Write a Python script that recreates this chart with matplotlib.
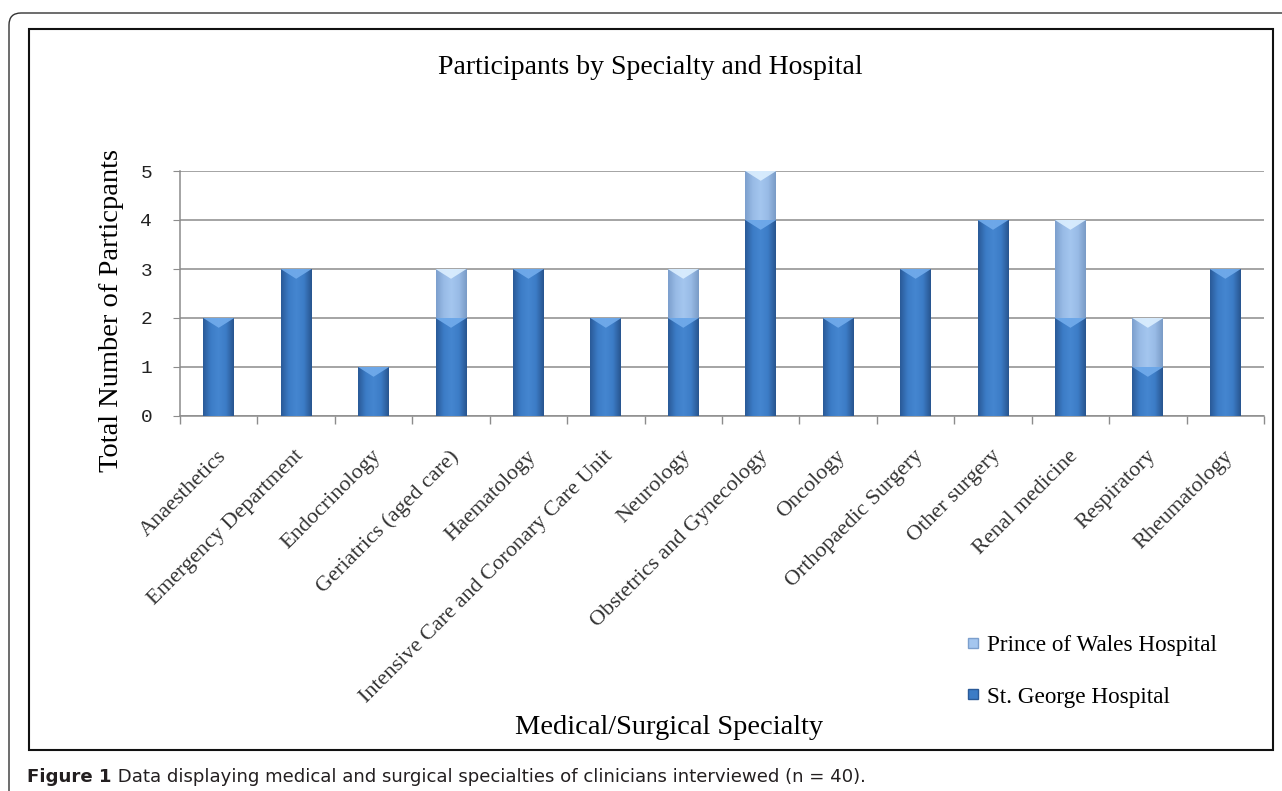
import matplotlib.pyplot as plt
import numpy as np
from matplotlib.colors import LinearSegmentedColormap
from matplotlib.lines import Line2D
from matplotlib.patches import FancyBboxPatch, Polygon, Rectangle
from matplotlib.transforms import IdentityTransform, ScaledTranslation

# ---------------------------------------------------------------------------
# Data
# ---------------------------------------------------------------------------
SPECIALTIES = [
    "Anaesthetics",
    "Emergency Department",
    "Endocrinology",
    "Geriatrics (aged care)",
    "Haematology",
    "Intensive Care and Coronary Care Unit",
    "Neurology",
    "Obstetrics and Gynecology",
    "Oncology",
    "Orthopaedic Surgery",
    "Other surgery",
    "Renal medicine",
    "Respiratory",
    "Rheumatology",
]
ST_GEORGE = [2, 3, 1, 2, 3, 2, 2, 4, 2, 3, 4, 2, 1, 3]
PRINCE_OF_WALES = [0, 0, 0, 1, 0, 0, 1, 1, 0, 0, 0, 2, 1, 0]
Y_TICKS = [0, 1, 2, 3, 4, 5]

TITLE = "Participants by Specialty and Hospital"
XLABEL = "Medical/Surgical Specialty"
YLABEL = "Total Number of Particpants"
CAPTION_BOLD = "Figure 1"
CAPTION = " Data displaying medical and surgical specialties of clinicians interviewed (n = 40)."

# ---------------------------------------------------------------------------
# Style
# ---------------------------------------------------------------------------
W, H = 1282, 791
SERIF = "Liberation Serif"
DARK = ["#2a5a98", "#3c7cc6", "#4586d0", "#3c7cc6", "#28558f"]
LIGHT = ["#7c9fcd", "#98bbe6", "#a4c6ef", "#98bbe6", "#7a9bc6"]
DARK_TOP = "#72acec"
LIGHT_TOP = "#dcefff"
GRID = "#8c8c8c"


def fx(px):
    return px / W


def fy(py):
    return 1 - py / H


fig = plt.figure(figsize=(W / 100, H / 100), dpi=100)
ax = fig.add_axes([fx(180), fy(416), fx(1264) - fx(180), fy(171) - fy(416)])

x = np.arange(len(SPECIALTIES))
grad = np.linspace(0, 1, 64).reshape(1, -1)
cm_dark = LinearSegmentedColormap.from_list("dark", DARK)
cm_light = LinearSegmentedColormap.from_list("light", LIGHT)

bars_sg = ax.bar(x, ST_GEORGE, width=0.4, color=DARK[1], zorder=2)
bars_pw = ax.bar(x, PRINCE_OF_WALES, width=0.4, bottom=ST_GEORGE, color=LIGHT[1], zorder=2)

# horizontal shading + light bevel at the top of every segment
bevel = 0.2
for bars, cmap, top_c in [(bars_sg, cm_dark, DARK_TOP), (bars_pw, cm_light, LIGHT_TOP)]:
    for r in bars:
        if r.get_height() <= 0:
            continue
        x0, y0 = r.get_x(), r.get_y()
        x1, y1 = x0 + r.get_width(), y0 + r.get_height()
        ax.imshow(grad, extent=(x0, x1, y0, y1), aspect="auto", cmap=cmap,
                  interpolation="bilinear", zorder=3)
        ax.add_patch(Polygon([(x0, y1), (x1, y1), ((x0 + x1) / 2, y1 - bevel)],
                             closed=True, color=top_c, lw=0, alpha=0.9, zorder=4))

ax.set_xlim(-0.5, len(SPECIALTIES) - 0.5)
ax.set_ylim(0, 5)
ax.set_yticks(Y_TICKS)
ax.set_yticklabels([str(v) for v in Y_TICKS], family="Liberation Mono", fontsize=14, color="#222")
ax.tick_params(axis="y", length=5, color=GRID, pad=15)
ax.yaxis.grid(True, color=GRID, lw=1.1)
ax.set_axisbelow(True)

# category boundary ticks (major) + labels at the centres (minor)
ax.set_xticks(np.arange(-0.5, len(SPECIALTIES), 1))
ax.set_xticklabels([])
ax.tick_params(axis="x", which="major", length=6, color=GRID, width=1)
ax.set_xticks(x, minor=True)
ax.set_xticklabels(SPECIALTIES, minor=True, rotation=45, ha="right", va="top",
                   rotation_mode="anchor", family=SERIF, fontsize=16, color="#333")
ax.tick_params(axis="x", which="minor", length=0, pad=22)
shift = ScaledTranslation(-2 / 100, 0, fig.dpi_scale_trans)
for lbl in ax.get_xticklabels(minor=True):
    lbl.set_transform(lbl.get_transform() + shift)

for s in ["top", "right"]:
    ax.spines[s].set_visible(False)
for s in ["left", "bottom"]:
    ax.spines[s].set_color(GRID)
    ax.spines[s].set_linewidth(1.1)

# titles
fig.text(fx(650), fy(67), TITLE, ha="center", va="center", family=SERIF, fontsize=20)
fig.text(fx(669), fy(728), XLABEL, ha="center", va="center", family=SERIF, fontsize=20.5)
fig.text(fx(112), fy(310), YLABEL, ha="center", va="center", rotation=90,
         family=SERIF, fontsize=20.5)

# legend
handles = [
    Line2D([], [], ls="", marker="s", markersize=7, markerfacecolor=LIGHT[2],
           markeredgecolor=LIGHT[0], label="Prince of Wales Hospital"),
    Line2D([], [], ls="", marker="s", markersize=7, markerfacecolor=DARK[1],
           markeredgecolor=DARK[0], label="St. George Hospital"),
]
fig.legend(handles=handles, loc="upper left", bbox_to_anchor=(fx(945), fy(614)),
           frameon=False, handlelength=0.6, handletextpad=0.3, labelspacing=1.3,
           prop={"family": SERIF, "size": 16.7})

# frames
fig.add_artist(FancyBboxPatch((9, -30), 1300, H - 13 + 30,
                              boxstyle="round,pad=0,rounding_size=12",
                              transform=IdentityTransform(), fill=False,
                              lw=1.0, ec="#333"))
fig.add_artist(Rectangle((29, H - 750), 1273 - 29, 750 - 29, transform=IdentityTransform(),
                         fill=False, lw=1.5, ec="#111"))

# caption
r = fig.canvas.get_renderer()
t1 = fig.text(fx(27), fy(777), CAPTION_BOLD, ha="left", va="center",
              family="DejaVu Sans", fontsize=13.1, weight="bold", color="#231f20")
bb = t1.get_window_extent(renderer=r)
fig.text(bb.x1 / W, fy(777), CAPTION, ha="left", va="center",
         family="DejaVu Sans", fontsize=13.1, color="#231f20")

fig.savefig("out.png", dpi=100)
